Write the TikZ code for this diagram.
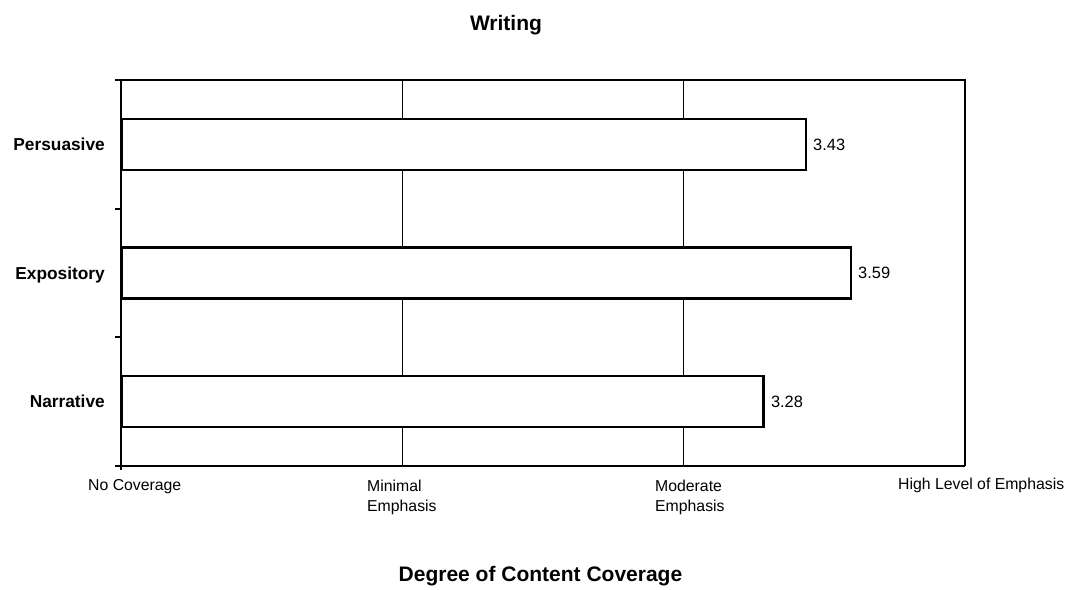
\documentclass[tikz,border=0pt]{standalone}
\usepackage{fontspec}
\setmainfont{Liberation Sans}
\begin{document}
\begin{tikzpicture}[x=1pt,y=-1pt,
  ticklbl/.style={font=\fontsize{15.8}{20.5}\selectfont, inner sep=0pt, anchor=base west, align=left},
  catlbl/.style={font=\bfseries\fontsize{17.3}{21}\selectfont, inner sep=0pt, anchor=base east},
  vallbl/.style={font=\fontsize{16.4}{20}\selectfont, inner sep=0pt, anchor=base west},
  ttl/.style={font=\bfseries\fontsize{21}{25}\selectfont, inner sep=0pt, anchor=base},
  barbox/.style={draw=black, line width=2.4pt, fill=white, rectangle, inner sep=0pt, minimum height=51pt, anchor=west},
  gridln/.style={line width=1.3pt},
  axisln/.style={line width=2pt},
  frameln/.style={line width=1.5pt}]
\useasboundingbox (0,0) rectangle (1068,589);
\fill[white] (0,0) rectangle (1068,589);

% plot corners and tick coordinates
\coordinate (tl) at (121,80);
\coordinate (tr) at (965,80);
\coordinate (bl) at (121,466);
\coordinate (br) at (965,466);
\coordinate (g1t) at (402.3,80);
\coordinate (g1b) at (402.3,466);
\coordinate (g2t) at (683.7,80);
\coordinate (g2b) at (683.7,466);
\coordinate (axbot) at (121,470);
\coordinate (t0) at (115,80);
\coordinate (t1) at (115,208.7);
\coordinate (t1r) at (121,208.7);
\coordinate (t2) at (115,337.3);
\coordinate (t2r) at (121,337.3);
\coordinate (t3) at (115,466);

% gridlines and frame
\draw[gridln] (g1t) -- (g1b);
\draw[gridln] (g2t) -- (g2b);
\draw[frameln] (t0) -- (tr) -- (br);
\draw[axisln] (tl) -- (axbot);
\draw[axisln] (t3) -- (br);
\draw[axisln] (t1) -- (t1r);
\draw[axisln] (t2) -- (t2r);

% bars
\node[barbox, minimum width=683.6pt] (pbar) at (121,144.5) {};
\node[barbox, minimum width=728.6pt] (ebar) at (121,273) {};
\node[barbox, minimum width=641.4pt] (nbar) at (121,401.5) {};

% value labels
\node[vallbl] (pval) at ([xshift=6pt,yshift=-5.9pt]pbar.east) {3.43};
\node[vallbl] (eval) at ([xshift=6pt,yshift=-5.9pt]ebar.east) {3.59};
\node[vallbl] (nval) at ([xshift=6pt,yshift=-5.9pt]nbar.east) {3.28};

% category labels
\node[catlbl] (pcat) at (105,150.8) {Persuasive};
\node[catlbl] (ecat) at (105,279.3) {Expository};
\node[catlbl] (ncat) at (105,407.8) {Narrative};

% tick labels (base anchor of a two-line node is its last line)
\node[ticklbl] (x0) at (88,490) {No Coverage};
\node[ticklbl] (x1) at (367,511.5) {Minimal\\Emphasis};
\node[ticklbl] (x2) at (655,511.5) {Moderate\\Emphasis};
\node[ticklbl] (x3) at (898,489) {High Level of Emphasis};

% titles
\node[ttl] (title) at (506,30) {Writing};
\node[ttl] (xtitle) at (540.5,581.7) {Degree of Content Coverage};
\end{tikzpicture}
\end{document}
